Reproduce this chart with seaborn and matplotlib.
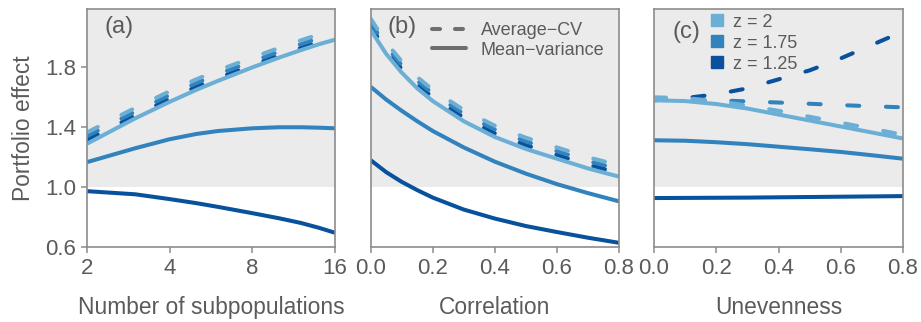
import matplotlib
matplotlib.use("Agg")
import matplotlib.pyplot as plt
import seaborn as sns
from matplotlib.lines import Line2D

sns.set_theme(style="white")
plt.rcParams["font.family"] = ["Liberation Sans", "DejaVu Sans"]

# ---- data -----------------------------------------------------------------
z_labels = ["z = 2", "z = 1.75", "z = 1.25"]
z_colors = ["#6baed6", "#3182bd", "#08519c"]

# (a) number of subpopulations
n_subpops = [2, 3, 4, 5, 6, 8, 10, 12, 14, 16]
a_mv_z200 = [1.29, 1.46, 1.57, 1.65, 1.71, 1.80, 1.865, 1.915, 1.955, 1.985]
a_mv_z175 = [1.167, 1.26, 1.32, 1.355, 1.375, 1.393, 1.40, 1.40, 1.397, 1.393]
a_mv_z125 = [0.973, 0.952, 0.92, 0.893, 0.868, 0.826, 0.792, 0.761, 0.728, 0.695]
a_cv_z200 = [1.365, 1.53, 1.64, 1.72, 1.78, 1.865, 1.93, 1.98, 2.02, 2.05]
a_cv_z175 = [1.34, 1.505, 1.615, 1.695, 1.755, 1.84, 1.905, 1.955, 1.995, 2.025]
a_cv_z125 = [1.315, 1.48, 1.59, 1.67, 1.73, 1.815, 1.88, 1.93, 1.97, 2.00]

# (b) correlation
correlation = [0.0, 0.05, 0.1, 0.15, 0.2, 0.3, 0.4, 0.5, 0.6, 0.7, 0.8]
b_mv_z200 = [2.05, 1.89, 1.765, 1.66, 1.575, 1.44, 1.335, 1.255, 1.19, 1.125, 1.07]
b_mv_z175 = [1.67, 1.585, 1.51, 1.44, 1.375, 1.265, 1.17, 1.09, 1.02, 0.96, 0.905]
b_mv_z125 = [1.18, 1.10, 1.035, 0.98, 0.93, 0.85, 0.79, 0.74, 0.70, 0.662, 0.628]
b_cv_z200 = [2.125, 1.965, 1.84, 1.735, 1.65, 1.515, 1.41, 1.33, 1.265, 1.20, 1.145]
b_cv_z175 = [2.10, 1.94, 1.815, 1.71, 1.625, 1.49, 1.385, 1.305, 1.24, 1.175, 1.12]
b_cv_z125 = [2.075, 1.915, 1.79, 1.685, 1.60, 1.465, 1.36, 1.28, 1.215, 1.15, 1.095]

# (c) unevenness
unevenness = [0.0, 0.1, 0.2, 0.3, 0.4, 0.5, 0.6, 0.7, 0.8]
c_mv_z200 = [1.58, 1.575, 1.555, 1.525, 1.485, 1.445, 1.405, 1.365, 1.325]
c_mv_z175 = [1.313, 1.31, 1.30, 1.287, 1.27, 1.253, 1.235, 1.213, 1.19]
c_mv_z125 = [0.927, 0.928, 0.929, 0.93, 0.932, 0.934, 0.936, 0.938, 0.94]
c_cv_z200 = [1.60, 1.595, 1.575, 1.545, 1.51, 1.47, 1.43, 1.39, 1.35]
c_cv_z175 = [1.585, 1.585, 1.58, 1.573, 1.565, 1.557, 1.548, 1.54, 1.533]
c_cv_z125 = [1.58, 1.595, 1.62, 1.66, 1.72, 1.78, 1.86, 1.95, 2.04]

panels = [
    dict(x=n_subpops, mv=[a_mv_z200, a_mv_z175, a_mv_z125],
         cv=[a_cv_z200, a_cv_z175, a_cv_z125],
         xlabel="Number of subpopulations", tag="(a)",
         xticks=[2, 4, 8, 16], xticklabels=["2", "4", "8", "16"]),
    dict(x=correlation, mv=[b_mv_z200, b_mv_z175, b_mv_z125],
         cv=[b_cv_z200, b_cv_z175, b_cv_z125],
         xlabel="Correlation", tag="(b)",
         xticks=[0, 0.2, 0.4, 0.6, 0.8],
         xticklabels=["0.0", "0.2", "0.4", "0.6", "0.8"]),
    dict(x=unevenness, mv=[c_mv_z200, c_mv_z175, c_mv_z125],
         cv=[c_cv_z200, c_cv_z175, c_cv_z125],
         xlabel="Unevenness", tag="(c)",
         xticks=[0, 0.2, 0.4, 0.6, 0.8],
         xticklabels=["0.0", "0.2", "0.4", "0.6", "0.8"]),
]

yticks = [0.6, 1.0, 1.4, 1.8]
ylims = (0.6, 2.19)

# ---- styling ----------------------------------------------------------------
TEXT = "#5b5b5b"
FRAME = "#8c8c8c"
SHADE = "#ebebeb"
LW = 2.9
DASH = (0, (3.0, 6.6))
TICK_FS = 16
LABEL_FS = 16.4
LEG_FS = 13
TAG_FS = 17

W, H = 921, 322
fig = plt.figure(figsize=(W / 100, H / 100), dpi=100)
fig.patch.set_facecolor("white")

lefts = [87, 370.7, 654]
widths = [248, 248.3, 249]
top_px, bottom_px = 9, 247

axes = []
for i, p in enumerate(panels):
    ax = fig.add_axes([lefts[i] / W, (H - bottom_px) / H,
                       widths[i] / W, (bottom_px - top_px) / H])
    axes.append(ax)
    ax.set_facecolor("white")
    ax.axhspan(1.0, 3.0, color=SHADE, lw=0, zorder=0)

    if i == 0:
        ax.set_xscale("log", base=2)
    # dashed (Average-CV) first, then solid (mean-variance)
    for k in (2, 1, 0):
        sns.lineplot(x=p["x"], y=p["cv"][k], ax=ax, color=z_colors[k], lw=LW,
                     linestyle=DASH, dash_capstyle="round", zorder=2)
    for k in (2, 1, 0):
        sns.lineplot(x=p["x"], y=p["mv"][k], ax=ax, color=z_colors[k], lw=LW,
                     solid_capstyle="butt", zorder=3)

    ax.set_xlim(p["x"][0], p["x"][-1])
    ax.set_ylim(*ylims)
    ax.set_xticks(p["xticks"])
    ax.set_xticklabels(p["xticklabels"])
    ax.minorticks_off()
    if i == 0:
        ax.set_yticks(yticks)
        ax.set_yticklabels([f"{v:.1f}" for v in yticks])
        ax.set_ylabel("Portfolio effect", fontsize=LABEL_FS, color=TEXT,
                      labelpad=7)
    else:
        ax.set_yticks([])
        ax.set_ylabel("")
    ax.set_xlabel(p["xlabel"], fontsize=LABEL_FS, color=TEXT, labelpad=12)
    ax.tick_params(axis="both", which="both", direction="out", length=4,
                   width=1.1, color=FRAME, labelcolor=TEXT,
                   labelsize=TICK_FS, pad=4, bottom=True, left=(i == 0))
    for s in ax.spines.values():
        s.set_color(FRAME)
        s.set_linewidth(1.2)
        s.set_zorder(5)

tag_pos = [(0.129, 0.924), (0.126, 0.924), (0.129, 0.903)]
for ax, p, (tx, ty) in zip(axes, panels, tag_pos):
    ax.text(tx, ty, p["tag"], transform=ax.transAxes, ha="center",
            va="center", fontsize=TAG_FS, color=TEXT, zorder=6)

# legend for method (line type)
method_handles = [
    Line2D([], [], color="#6e6e6e", lw=LW, linestyle=(0, (2.0, 3.7)),
           dash_capstyle="round"),
    Line2D([], [], color="#6e6e6e", lw=LW),
]
axes[1].legend(method_handles, ["Average\u2212CV", "Mean\u2212variance"],
               loc="upper left", bbox_to_anchor=(0.247, 0.945),
               frameon=False, fontsize=LEG_FS, borderpad=0,
               borderaxespad=0, handlelength=1.9, handletextpad=0.8,
               labelspacing=0.15, labelcolor=TEXT)

# legend for z (colour)
z_handles = [Line2D([], [], marker="s", linestyle="none", markersize=8,
                    markerfacecolor=c, markeredgecolor=c) for c in z_colors]
axes[2].legend(z_handles, z_labels, loc="upper left",
               bbox_to_anchor=(0.224, 0.98), frameon=False,
               fontsize=LEG_FS, borderpad=0, borderaxespad=0,
               handlelength=0.8, handletextpad=0.5,
               labelspacing=0.22, labelcolor=TEXT)

fig.savefig("out.png", dpi=100, facecolor="white")
